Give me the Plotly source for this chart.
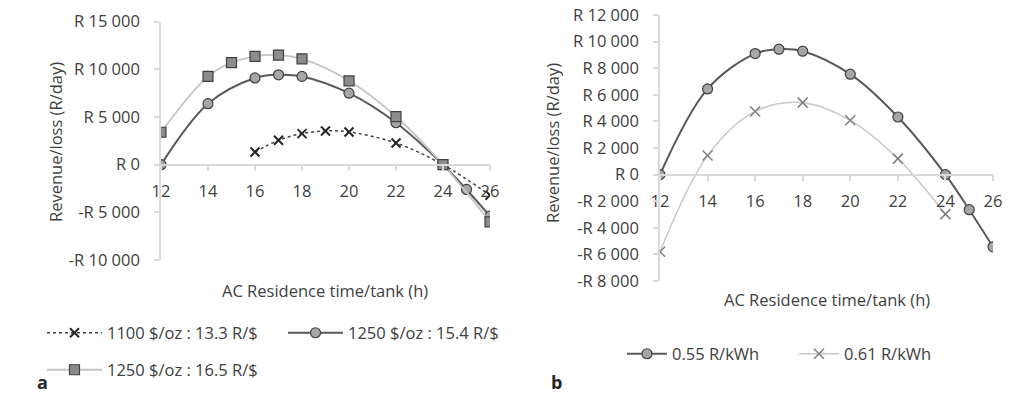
import plotly.graph_objects as go

W, H = 1015, 396

# ---------------- data ----------------
# Panel a
a_x_low = [16, 17, 18, 19, 20, 22, 24, 26]
a_y_low = [1330, 2560, 3260, 3540, 3430, 2270, 0, -3200]          # 1100 $/oz : 13.3 R/$

a_x_mid = [12, 14, 16, 17, 18, 20, 22, 24, 25, 26]
a_y_mid = [0, 6400, 9100, 9430, 9260, 7500, 4400, 0, -2600, -5400]  # 1250 $/oz : 15.4 R/$

a_x_high = [12, 14, 15, 16, 17, 18, 20, 22, 24, 26]
a_y_high = [3400, 9260, 10700, 11370, 11500, 11100, 8800, 5050, 0, -6000]  # 1250 $/oz : 16.5 R/$

# Panel b
b_x_055 = [12, 14, 16, 17, 18, 20, 22, 24, 25, 26]
b_y_055 = [0, 6440, 9100, 9430, 9280, 7550, 4330, 0, -2640, -5430]   # 0.55 R/kWh

b_x_061 = [12, 14, 16, 18, 20, 22, 24]
b_y_061 = [-5800, 1430, 4750, 5410, 4080, 1200, -2970]              # 0.61 R/kWh

x_ticks = [12, 14, 16, 18, 20, 22, 24, 26]
a_y_ticks = [-10000, -5000, 0, 5000, 10000, 15000]
a_y_ticktext = ["-R 10 000", "-R 5 000", "R 0", "R 5 000", "R 10 000", "R 15 000"]
b_y_ticks = [-8000, -6000, -4000, -2000, 0, 2000, 4000, 6000, 8000, 10000, 12000]
b_y_ticktext = ["-R 8 000", "-R 6 000", "-R 4 000", "-R 2 000", "R 0", "R 2 000",
                "R 4 000", "R 6 000", "R 8 000", "R 10 000", "R 12 000"]

x_title = "AC Residence time/tank (h)"
y_title = "Revenue/loss (R/day)"

# ---------------- layout helpers ----------------
FONT = "Open Sans"
FS = 16.5
TXT = "#404040"
AX = "#d9d9d9"

def px_x(p):
    return p / W

def px_y(p):
    return 1 - p / H

a_xdom = [px_x(161), px_x(490)]
a_ydom = [px_y(260), px_y(21.7)]
a_yr = [-10000, 15000]
b_xdom = [px_x(660), px_x(993)]
b_ydom = [px_y(281), px_y(15)]
b_yr = [-8000, 12000]

def zero_pos(dom, rng):
    return dom[0] + (0 - rng[0]) / (rng[1] - rng[0]) * (dom[1] - dom[0])

fig = go.Figure()

# Panel a traces
fig.add_trace(go.Scatter(
    x=a_x_low, y=a_y_low, name="1100 $/oz : 13.3 R/$", mode="lines+markers",
    line=dict(color="#404040", width=1.5, dash="dot", shape="spline"),
    marker=dict(symbol="x-thin", size=9, line=dict(color="#262626", width=2)),
    xaxis="x", yaxis="y", legend="legend"))
fig.add_trace(go.Scatter(
    x=a_x_mid, y=a_y_mid, name="1250 $/oz : 15.4 R/$", mode="lines+markers",
    line=dict(color="#595959", width=2, shape="spline"),
    marker=dict(symbol="circle", size=10, color="#a6a6a6", line=dict(color="#404040", width=1.2)),
    xaxis="x", yaxis="y", legend="legend"))
fig.add_trace(go.Scatter(
    x=a_x_high, y=a_y_high, name="1250 $/oz : 16.5 R/$", mode="lines+markers",
    line=dict(color="#c4c4c4", width=1.8, shape="spline"),
    marker=dict(symbol="square", size=10, color="#8c8c8c", line=dict(color="#404040", width=1.2)),
    xaxis="x", yaxis="y", legend="legend3"))

# Panel b traces
fig.add_trace(go.Scatter(
    x=b_x_055, y=b_y_055, name="0.55 R/kWh", mode="lines+markers",
    line=dict(color="#595959", width=2, shape="spline"),
    marker=dict(symbol="circle", size=10, color="#a6a6a6", line=dict(color="#404040", width=1.2)),
    xaxis="x2", yaxis="y2", legend="legend2"))
fig.add_trace(go.Scatter(
    x=b_x_061, y=b_y_061, name="0.61 R/kWh", mode="lines+markers",
    line=dict(color="#c8c8c8", width=1.5, shape="spline"),
    marker=dict(symbol="x-thin", size=10, line=dict(color="#7f7f7f", width=1.5)),
    xaxis="x2", yaxis="y2", legend="legend2"))

tickfont = dict(family=FONT, size=FS, color=TXT)

def xaxis_cfg(dom, pos):
    return dict(domain=dom, range=[12, 26], tickvals=x_ticks, showgrid=False, zeroline=False,
                showline=True, linecolor=AX, linewidth=1.5, ticks="outside", ticklen=6,
                tickcolor=AX, tickwidth=1.5, tickfont=tickfont, anchor="free", position=pos,
                ticklabelstandoff=6, fixedrange=True, automargin=False)

def yaxis_cfg(dom, rng, tv, tt, anchor_x):
    return dict(domain=dom, range=rng, tickvals=tv, ticktext=tt, showgrid=False, zeroline=False,
                showline=True, linecolor=AX, linewidth=1.5, ticks="outside", ticklen=5,
                tickcolor=AX, tickwidth=1.5, tickfont=tickfont, anchor=anchor_x,
                ticklabelstandoff=11, fixedrange=True, automargin=False)

legfont = dict(family=FONT, size=FS, color=TXT)

def ann(text, xp, yp, **kw):
    d = dict(text=text, x=px_x(xp), y=px_y(yp), xref="paper", yref="paper",
             xanchor="center", yanchor="middle", showarrow=False,
             font=dict(family=FONT, size=FS, color=TXT))
    d.update(kw)
    return d

fig.update_layout(
    template="none",
    width=W, height=H, margin=dict(l=0, r=0, t=0, b=0, pad=0, autoexpand=False),
    paper_bgcolor="white", plot_bgcolor="rgba(0,0,0,0)",
    font=dict(family=FONT, color=TXT),
    xaxis=xaxis_cfg(a_xdom, zero_pos(a_ydom, a_yr)),
    yaxis=yaxis_cfg(a_ydom, a_yr, a_y_ticks, a_y_ticktext, "x"),
    xaxis2=xaxis_cfg(b_xdom, zero_pos(b_ydom, b_yr)),
    yaxis2=yaxis_cfg(b_ydom, b_yr, b_y_ticks, b_y_ticktext, "x2"),
    legend=dict(orientation="h", x=px_x(42), y=px_y(333), xanchor="left", yanchor="middle",
                font=legfont, bgcolor="rgba(0,0,0,0)", itemwidth=55,
                entrywidth=171, entrywidthmode="pixels"),
    legend3=dict(orientation="h", x=px_x(42), y=px_y(370), xanchor="left", yanchor="middle",
                 font=legfont, bgcolor="rgba(0,0,0,0)", itemwidth=55),
    legend2=dict(orientation="h", x=px_x(622), y=px_y(354), xanchor="left", yanchor="middle",
                 font=legfont, bgcolor="rgba(0,0,0,0)", itemwidth=40,
                 entrywidth=117, entrywidthmode="pixels"),
    showlegend=True,
    annotations=[
        ann(x_title, 325, 290),
        ann(x_title, 827, 299),
        ann(y_title, 55, 142, textangle=-90),
        ann(y_title, 552, 143, textangle=-90),
        ann("<b>a</b>", 42, 396, yanchor="bottom", font=dict(family=FONT, size=18, color="#262626")),
        ann("<b>b</b>", 556, 396, yanchor="bottom", font=dict(family=FONT, size=18, color="#262626")),
    ],
)

fig.write_html("out.html", config={"displayModeBar": False},
               post_script="document.body.style.margin='0';document.body.style.overflow='hidden';")
